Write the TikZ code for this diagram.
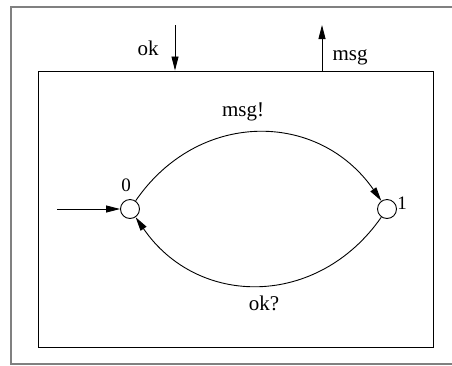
\documentclass[tikz,border=0pt]{standalone}
\usepackage{fontspec}
\setmainfont{Liberation Serif}
\usetikzlibrary{arrows.meta}
\begin{document}
\begin{tikzpicture}[x=1pt,y=-1pt, >={Triangle[length=14pt,width=7pt]},
    every node/.style={font=\fontsize{21}{24}\selectfont},
    state/.style={circle, draw, line width=0.9pt, minimum size=19pt, inner sep=0pt},
    statelabel/.style={font=\fontsize{19}{22}\selectfont}]
        \clip (0,0) rectangle (452,365);
        \draw[gray, line width=1.5pt] (11,7) rectangle (470,364);
        \node (box) [draw, line width=1pt, minimum width=395pt, minimum height=276pt, inner sep=0pt] at (235.5,209) {};
        % ports on top of the box
        \coordinate (okin) at (175,25);
        \coordinate (msgout) at (322,25);
        \draw[->, line width=0.9pt] (okin) -- (okin |- box.north);
        \draw[->, line width=0.9pt] (msgout |- box.north) -- (msgout);
        \node (oklab) at (148,48) {ok};
        \node (msglab) at (350,57) {msg};
        % states
        \node (s0) [state] at (130,209) {};
        \node (s1) [state] at (387,209) {};
        \node (lab0) [statelabel] at (126,185) {0};
        \node (lab1) [statelabel] at (402,203) {1};
        \coordinate (init) at (57,209);
        \draw[->, line width=0.9pt] (init) -- (s0);
        \draw[->, line width=0.9pt] (s0) .. controls (198,110) and (318,110) .. (s1);
        \draw[->, line width=0.9pt] (s1) .. controls (318,308) and (198,308) .. (s0);
        \node (send) at (243,112) {msg!};
        \node (recv) at (264,303) {ok?};
\end{tikzpicture}
\end{document}
